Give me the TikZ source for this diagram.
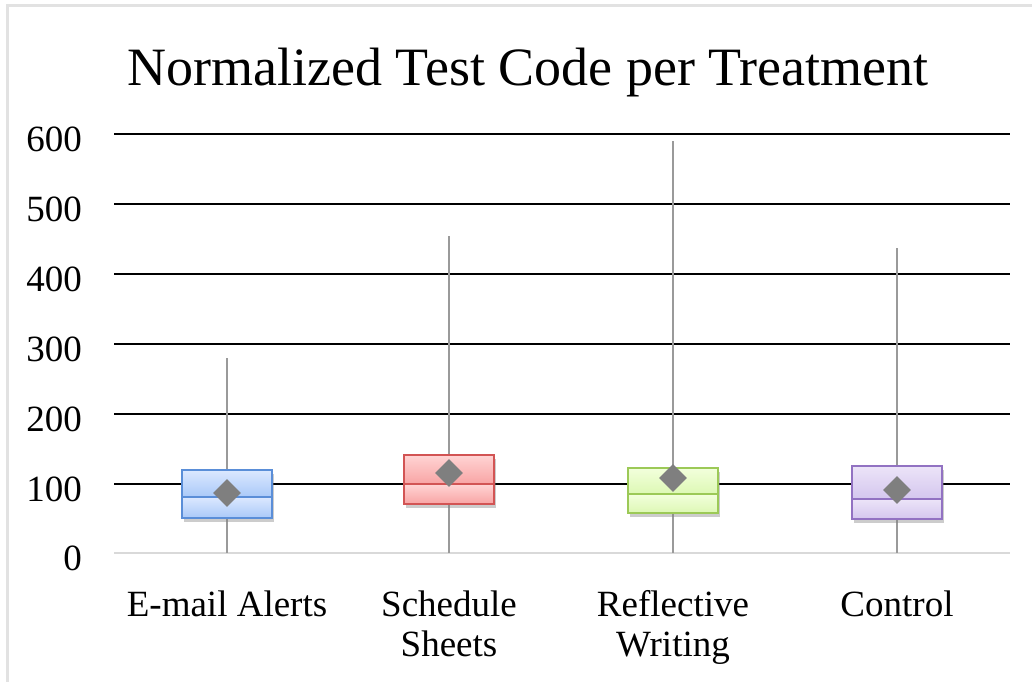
\documentclass[tikz,border=0pt]{standalone}
\usepackage{fontspec}
\setmainfont{Liberation Serif}
\usetikzlibrary{shapes.geometric,shadows}

\definecolor{framegray}{HTML}{E2E2E2}
\definecolor{axisgray}{HTML}{D9D9D9}
\definecolor{whiskergray}{HTML}{9A9A9A}
\definecolor{meangray}{HTML}{7F7F7F}
\definecolor{blueedge}{HTML}{5A8ED8}
\definecolor{bluetop}{HTML}{DCE8FF}
\definecolor{bluebot}{HTML}{A9C9F8}
\definecolor{rededge}{HTML}{D25454}
\definecolor{redtop}{HTML}{FFD4D4}
\definecolor{redbot}{HTML}{F8A4A4}
\definecolor{greenedge}{HTML}{9CC957}
\definecolor{greentop}{HTML}{F2FFDC}
\definecolor{greenbot}{HTML}{DDF8B4}
\definecolor{purpleedge}{HTML}{9272C2}
\definecolor{purpletop}{HTML}{ECE4F8}
\definecolor{purplebot}{HTML}{D4C6EE}

\tikzset{
  gridline/.style={black, line width=1.4pt},
  axisline/.style={axisgray, line width=2pt},
  whisker/.style={whiskergray, line width=2pt},
  boxhalf/.style={line width=1.6pt},
  boxshadow/.style={drop shadow={opacity=0.4, shadow xshift=1.5pt, shadow yshift=-3.5pt}},
  meanmark/.style={diamond, fill=meangray, inner sep=0pt, minimum width=28pt, minimum height=28pt},
  ticklabel/.style={anchor=east, inner sep=0pt, font=\fontsize{37}{40}\selectfont},
  catlabel/.style={anchor=base, inner sep=0pt, align=center, font=\fontsize{37}{40}\selectfont},
  catlabeltwo/.style={anchor=north, inner sep=0pt, align=center, font=\fontsize{37}{40}\selectfont},
}

% one treatment: #1 name, #2 centre x, #3 whisker top, #4 Q3, #5 median, #6 Q1, #7 mean, #8 colour prefix
\newcommand{\treatmentbox}[8]{%
  \coordinate (#1-top) at (#2,#3);
  \coordinate (#1-bot) at (#2,553);
  \draw[whisker] (#1-top) -- (#1-bot);
  \fill[white, boxshadow] (#2-45,#4) rectangle (#2+45,#6);
  \shade[top color=#8top, bottom color=#8bot] (#2-45,#4) rectangle (#2+45,#5);
  \shade[top color=#8top, bottom color=#8bot] (#2-45,#5) rectangle (#2+45,#6);
  \draw[#8edge, boxhalf] (#2-45,#4) rectangle (#2+45,#6);
  \draw[#8edge, boxhalf] (#2-45,#5) -- (#2+45,#5);
  \node[meanmark] (#1-mean) at (#2,#7) {};
}

\begin{document}
\begin{tikzpicture}[x=1pt, y=-1pt]
  \useasboundingbox (0,0) rectangle (1032,681);
  \fill[white] (0,0) rectangle (1032,681);

  % chart frame (only its top and left edges fall inside the page)
  \draw[framegray, line width=2.2pt] (7.5,700) -- (7.5,5.5) -- (1050,5.5);

  % title
  \node[anchor=base, inner sep=0pt, font=\fontsize{54}{60}\selectfont] (title) at (528,85)
    {Normalized Test Code per Treatment};

  % grid lines and value labels
  \foreach \v/\y in {100/484, 200/414, 300/344, 400/274, 500/204, 600/134} {
    \draw[gridline] (114,\y) -- (1010,\y);
    \node[ticklabel] (tick\v) at (82,\y+5) {\v};
  }
  \draw[axisline] (114,553) -- (1010,553);
  \node[ticklabel] (tick0) at (82,558) {0};

  % boxes: name, x, whisker top, Q3, median, Q1, mean, colour
  \treatmentbox{email}{227}{358}{470}{497}{518}{493}{blue}
  \treatmentbox{sched}{449}{236}{455}{484}{504}{473}{red}
  \treatmentbox{refl}{673}{141}{468}{494}{513}{478}{green}
  \treatmentbox{ctrl}{897}{248}{466}{499}{519}{490}{purple}

  % category labels
  \node[catlabel] (lab-email) at (227,616) {E-mail Alerts};
  \node[catlabeltwo] (lab-sched) at (449,590.5) {Schedule\\Sheets};
  \node[catlabeltwo] (lab-refl) at (673,590.5) {Reflective\\Writing};
  \node[catlabel] (lab-ctrl) at (897,616) {Control};
\end{tikzpicture}
\end{document}
